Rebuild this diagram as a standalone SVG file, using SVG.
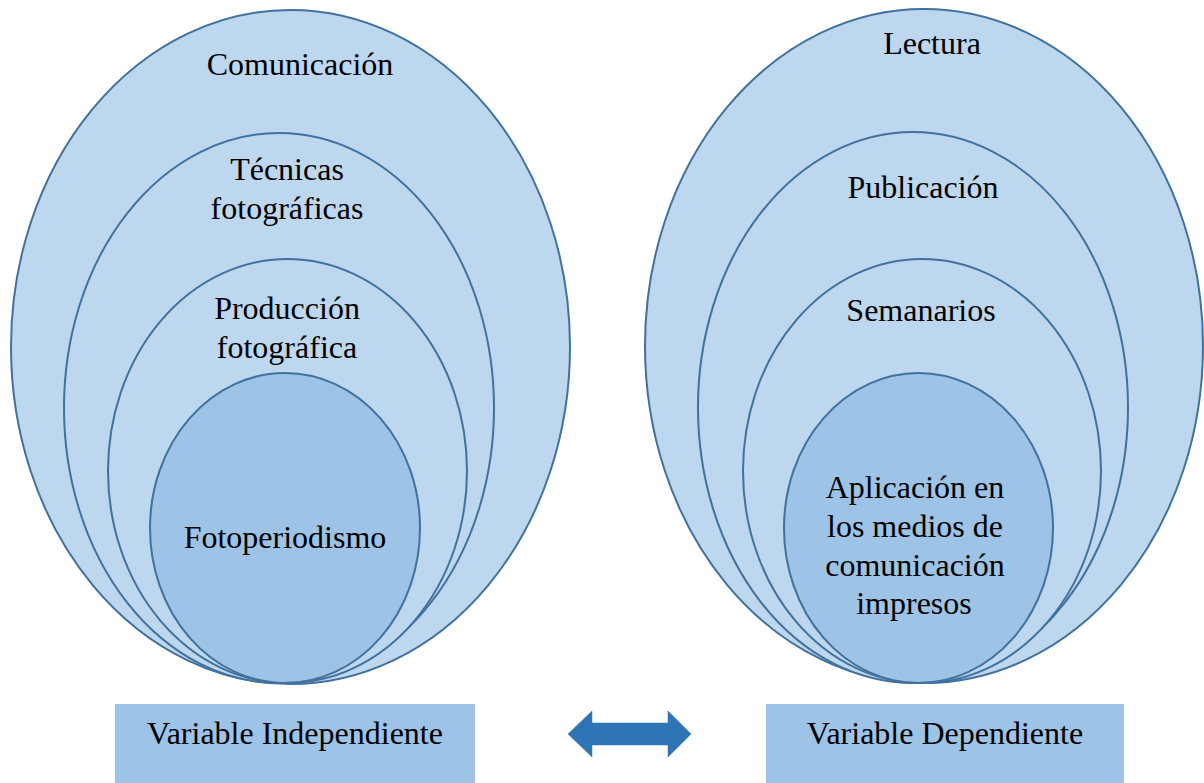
<svg xmlns="http://www.w3.org/2000/svg" width="1204" height="783" viewBox="0 0 1204 783">
<style>
.o{fill:#BDD7EE;stroke:#41719C;stroke-width:2}
.i{fill:#9DC3E6;stroke:#41719C;stroke-width:2}
.b{fill:#9DC3E6}
text{font-family:"Liberation Serif","Times New Roman",serif;font-size:32px;fill:#000;text-anchor:middle}
</style>
<rect width="1204" height="783" fill="#fff"/>
<g id="left">
<g id="comunicacion"><ellipse class="o" cx="290.5" cy="347" rx="279.5" ry="337"/><text x="300" y="75">Comunicación</text></g>
<g id="tecnicas"><ellipse class="o" cx="279" cy="408" rx="215" ry="275"/><text x="287" y="180">Técnicas</text><text x="287" y="219">fotográficas</text></g>
<g id="produccion"><ellipse class="o" cx="287.5" cy="471" rx="179.5" ry="212"/><text x="287" y="319">Producción</text><text x="287" y="358">fotográfica</text></g>
<g id="fotoperiodismo"><ellipse class="i" cx="285" cy="528" rx="135" ry="155"/><text x="285" y="548">Fotoperiodismo</text></g>
</g>
<g id="right">
<g id="lectura"><ellipse class="o" cx="924" cy="346" rx="279" ry="337"/><text x="932" y="54">Lectura</text></g>
<g id="publicacion"><ellipse class="o" cx="913" cy="407.5" rx="215" ry="275.5"/><text x="923" y="198">Publicación</text></g>
<g id="semanarios"><ellipse class="o" cx="922" cy="471" rx="179" ry="212"/><text x="921" y="321">Semanarios</text></g>
<g id="aplicacion"><ellipse class="i" cx="918.5" cy="528" rx="134.5" ry="155"/><text x="915" y="498">Aplicación en</text><text x="915" y="537">los medios de</text><text x="915" y="576">comunicación</text><text x="914" y="614">impresos</text></g>
</g>
<g id="var-independiente"><rect class="b" x="115" y="704" width="360" height="79"/><text x="295" y="744">Variable Independiente</text></g>
<g id="var-dependiente"><rect class="b" x="766" y="704" width="358" height="79"/><text x="945" y="744">Variable Dependiente</text></g>
<g id="connectors"><path d="M568,734 L592,711 L592,723 L668,723 L668,711 L691,734 L668,757 L668,745 L592,745 L592,757 Z" fill="#2E75B6" stroke="#3A6FA5" stroke-width="0.5"/></g>
</svg>
